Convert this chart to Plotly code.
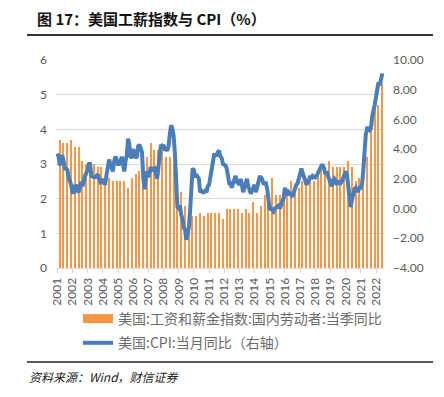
import pandas as pd
import plotly.graph_objects as go

# ---- data ----
title_text = "图 17：美国工薪指数与 CPI（%）"
source_text = "资料来源：Wind，财信证券"
bar_name = "美国:工资和薪金指数:国内劳动者:当季同比"
line_name = "美国:CPI:当月同比（右轴）"

# quarterly wage index YoY (%), 2001Q1 - 2022Q2
wage_yoy = [
    3.7, 3.6, 3.6, 3.7,   # 2001
    3.5, 3.5, 3.1, 3.0,   # 2002
    3.0, 3.0, 2.9, 2.9,   # 2003
    2.6, 2.6, 2.5, 2.5,   # 2004
    2.5, 2.5, 2.3, 2.6,   # 2005
    2.7, 2.8, 2.9, 3.2,   # 2006
    3.6, 3.4, 3.4, 3.6,   # 2007
    3.2, 3.2, 3.0, 2.7,   # 2008
    2.2, 1.8, 1.6, 1.5,   # 2009
    1.5, 1.6, 1.5, 1.6,   # 2010
    1.6, 1.6, 1.6, 1.4,   # 2011
    1.7, 1.7, 1.7, 1.7,   # 2012
    1.6, 1.7, 1.6, 1.9,   # 2013
    1.6, 1.8, 2.1, 2.0,   # 2014
    2.6, 2.1, 2.1, 2.3,   # 2015
    2.2, 2.5, 2.3, 2.3,   # 2016
    2.5, 2.5, 2.5, 2.5,   # 2017
    2.8, 2.9, 2.9, 3.1,   # 2018
    2.9, 2.9, 2.9, 2.9,   # 2019
    3.1, 2.9, 2.5, 2.6,   # 2020
    3.1, 3.2, 4.0, 4.6,   # 2021
    4.7, 5.3,             # 2022
]

# monthly CPI YoY (%), 2001-01 - 2022-06
cpi_yoy = [
    3.7, 3.5, 2.9, 3.3, 3.6, 3.2, 2.7, 2.7, 2.6, 2.1, 1.9, 1.6,    # 2001
    1.1, 1.1, 1.5, 1.6, 1.2, 1.1, 1.5, 1.8, 1.5, 2.0, 2.2, 2.4,    # 2002
    2.6, 3.0, 3.0, 2.2, 2.1, 2.1, 2.1, 2.2, 2.3, 2.0, 1.8, 1.9,    # 2003
    1.9, 1.7, 1.7, 2.3, 3.1, 3.3, 3.0, 2.7, 2.5, 3.2, 3.5, 3.3,    # 2004
    3.0, 3.0, 3.1, 3.5, 2.8, 2.5, 3.2, 3.6, 4.7, 4.3, 3.5, 3.4,    # 2005
    4.0, 3.6, 3.4, 3.5, 4.2, 4.3, 4.1, 3.8, 2.1, 1.3, 2.0, 2.5,    # 2006
    2.1, 2.4, 2.8, 2.6, 2.7, 2.7, 2.4, 2.0, 2.8, 3.5, 4.3, 4.1,    # 2007
    4.3, 4.0, 4.0, 3.9, 4.2, 5.0, 5.6, 5.4, 4.9, 3.7, 1.1, 0.1,    # 2008
    0.0, 0.2, -0.4, -0.7, -1.3, -1.4, -2.1, -1.5, -1.3, -0.2, 1.8, 2.7,  # 2009
    2.6, 2.1, 2.3, 2.2, 2.0, 1.1, 1.2, 1.1, 1.1, 1.2, 1.1, 1.5,    # 2010
    1.6, 2.1, 2.7, 3.2, 3.6, 3.6, 3.6, 3.8, 3.9, 3.5, 3.4, 3.0,    # 2011
    2.9, 2.9, 2.7, 2.3, 1.7, 1.7, 1.4, 1.7, 2.0, 2.2, 1.8, 1.7,    # 2012
    1.6, 2.0, 1.5, 1.1, 1.4, 1.8, 2.0, 1.5, 1.2, 1.0, 1.2, 1.5,    # 2013
    1.6, 1.1, 1.5, 2.0, 2.1, 2.1, 2.0, 1.7, 1.7, 1.7, 1.3, 0.8,    # 2014
    -0.1, 0.0, -0.1, -0.2, 0.0, 0.1, 0.2, 0.2, 0.0, 0.2, 0.5, 0.7, # 2015
    1.4, 1.0, 0.9, 1.1, 1.0, 1.0, 0.8, 1.1, 1.5, 1.6, 1.7, 2.1,    # 2016
    2.5, 2.7, 2.4, 2.2, 1.9, 1.6, 1.7, 1.9, 2.2, 2.0, 2.2, 2.1,    # 2017
    2.1, 2.2, 2.4, 2.5, 2.8, 2.9, 2.9, 2.7, 2.3, 2.5, 2.2, 1.9,    # 2018
    1.6, 1.5, 1.9, 2.0, 1.8, 1.6, 1.8, 1.7, 1.7, 1.8, 2.1, 2.3,    # 2019
    2.5, 2.3, 1.5, 0.3, 0.1, 0.6, 1.0, 1.3, 1.4, 1.2, 1.2, 1.4,    # 2020
    1.4, 1.7, 2.6, 4.2, 5.0, 5.4, 5.4, 5.3, 5.4, 6.2, 6.8, 7.0,    # 2021
    7.5, 7.9, 8.5, 8.3, 8.6, 9.1,                                  # 2022
]

year_labels = [str(y) for y in range(2001, 2023)]
left_ticks = [0, 1, 2, 3, 4, 5, 6]
right_ticks = [-4, -2, 0, 2, 4, 6, 8, 10]

# ---- dates ----
cpi_dates = [d.strftime("%Y-%m-%d") for d in
             pd.date_range("2001-01-01", periods=len(cpi_yoy), freq="MS")]
wage_dates = [d.strftime("%Y-%m-%d") for d in
              pd.date_range("2001-03-01", periods=len(wage_yoy), freq="3MS")]
year_ticks = [f"{y}-01-01" for y in year_labels]

ORANGE = "#F79646"
BLUE = "#4A7EBB"
GRAY = "#595959"
FONT = "Lato, 'Noto Sans CJK SC', sans-serif"
CJK = "'Noto Sans CJK SC', sans-serif"

# page body has an 8px margin: figure is laid out in page coords minus 8
OFF = 8
W, H = 444 - OFF, 397 - OFF
PL, PR, PT, PB = 56 - OFF, 384 - OFF, 60 - OFF, 268 - OFF   # plot area
PW, PH = PR - PL, PB - PT


def px_x(p):
    return (p - OFF - PL) / PW


def px_y(p):
    return (PB - (p - OFF)) / PH


fig = go.Figure()
fig.add_trace(go.Bar(
    x=wage_dates, y=wage_yoy, marker=dict(color=ORANGE, line=dict(width=0)),
    width=30 * 86400000, showlegend=False, name=bar_name, yaxis="y",
))
# legend proxy for the bar series (wide swatch, as in the source)
fig.add_trace(go.Scatter(
    x=[cpi_dates[0], cpi_dates[0]], y=[None, None], mode="lines",
    line=dict(color=ORANGE, width=9), name=bar_name, yaxis="y",
    legendgroup="a",
))
fig.add_trace(go.Scatter(
    x=cpi_dates, y=cpi_yoy, mode="lines", line=dict(color=BLUE, width=4),
    name=line_name, yaxis="y2", legendgroup="b",
))

fig.update_layout(
    width=W, height=H,
    margin=dict(l=PL, r=W - PR, t=PT, b=H - PB, autoexpand=False),
    paper_bgcolor="white", plot_bgcolor="white",
    font=dict(family=FONT, size=12, color=GRAY),
    bargap=0,
    xaxis=dict(
        type="date",
        range=["2000-12-01", "2022-07-12"],
        tickmode="array", tickvals=year_ticks, ticktext=year_labels,
        tickangle=-90, tickfont=dict(size=12, color=GRAY),
        showgrid=False, showline=True, linecolor="#D9D9D9", linewidth=1,
        ticks="outside", ticklen=4, tickcolor="#D9D9D9",
        zeroline=False,
    ),
    yaxis=dict(
        range=[0, 6], tickmode="array", tickvals=left_ticks,
        showgrid=True, gridcolor="#D9D9D9", gridwidth=1,
        zeroline=False, showline=False, ticks="",
        tickfont=dict(size=12, color=GRAY), ticklabelstandoff=8,
    ),
    yaxis2=dict(
        range=[-4, 10], tickmode="array", tickvals=right_ticks,
        tickformat=".2f", overlaying="y", side="right",
        showgrid=False, zeroline=False, showline=False, ticks="",
        tickfont=dict(size=12, color=GRAY), ticklabelstandoff=8,
    ),
    legend=dict(
        x=px_x(78), y=px_y(303), xanchor="left", yanchor="top",
        orientation="v", font=dict(family=CJK, size=14, color="#6b6b6b"),
        bgcolor="rgba(0,0,0,0)", itemwidth=30, tracegroupgap=3,
    ),
    shapes=[
        dict(type="line", xref="paper", yref="paper",
             x0=px_x(27), x1=px_x(433), y0=px_y(35), y1=px_y(35),
             line=dict(color="#333333", width=2)),
        dict(type="line", xref="paper", yref="paper",
             x0=px_x(27), x1=px_x(433), y0=px_y(362), y1=px_y(362),
             line=dict(color="#222222", width=1.5)),
    ],
    annotations=[
        dict(text="<b>" + title_text + "</b>", xref="paper", yref="paper",
             x=px_x(35), y=px_y(18), xanchor="left", yanchor="middle",
             showarrow=False, font=dict(family=CJK, size=15, color="#111111")),
        dict(text="<i>" + source_text + "</i>", xref="paper", yref="paper",
             x=px_x(27), y=px_y(376), xanchor="left", yanchor="middle",
             showarrow=False, font=dict(family=CJK, size=12, color="#222222")),
    ],
)

fig.write_html("out.html")
